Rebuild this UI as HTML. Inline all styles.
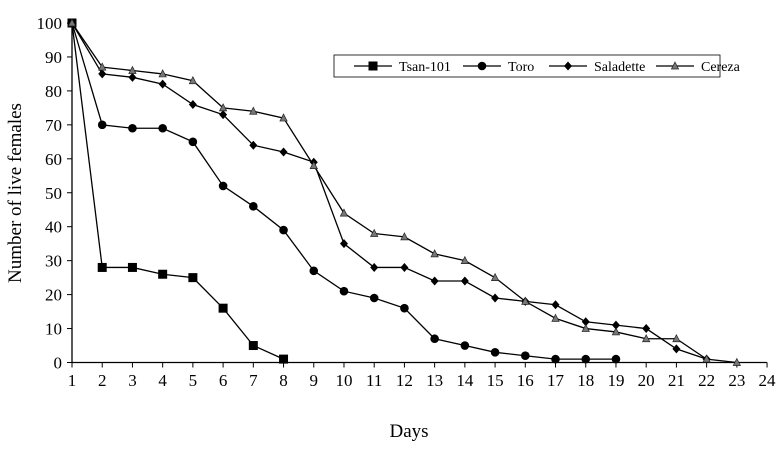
<!DOCTYPE html>
<html><head><meta charset="utf-8"><style>
body{margin:0;background:#fff}
svg text{font-family:"Liberation Serif",serif;fill:#000}
</style></head><body>
<svg id="chart" width="783" height="447" viewBox="0 0 783 447" xmlns="http://www.w3.org/2000/svg"></svg>
<script>
const days=[1,2,3,4,5,6,7,8,9,10,11,12,13,14,15,16,17,18,19,20,21,22,23];
const tsan=[100,28,28,26,25,16,5,1];
const toro=[100,70,69,69,65,52,46,39,27,21,19,16,7,5,3,2,1,1,1];
const saladette=[100,85,84,82,76,73,64,62,59,35,28,28,24,24,19,18,17,12,11,10,4,1];
const cereza=[100,87,86,85,83,75,74,72,58,44,38,37,32,30,25,18,13,10,9,7,7,1,0];
const xTicks=[1,2,3,4,5,6,7,8,9,10,11,12,13,14,15,16,17,18,19,20,21,22,23,24];
const yTicks=[0,10,20,30,40,50,60,70,80,90,100];
const NS="http://www.w3.org/2000/svg";
const svg=document.getElementById('chart');
const X=d=>72+(d-1)*30.22, Y=v=>362.5-v*3.395;
function mk(t,a,p){const e=document.createElementNS(NS,t);for(const k in a)e.setAttribute(k,a[k]);(p||svg).appendChild(e);return e;}
const ax=mk('g',{});


mk('line',{x1:72,y1:Y(100),x2:72,y2:Y(0),stroke:'#000','stroke-width':1.3},ax);
mk('line',{x1:72,y1:Y(0),x2:X(24),y2:Y(0),stroke:'#000','stroke-width':1.3},ax);
yTicks.forEach(v=>{mk('line',{x1:67,y1:Y(v),x2:72,y2:Y(v),stroke:'#000'},ax);
 const t=mk('text',{x:62,y:Y(v)+6,'text-anchor':'end','font-size':17},ax);t.textContent=v;
 });
xTicks.forEach(d=>{mk('line',{x1:X(d),y1:Y(0),x2:X(d),y2:Y(0)+5,stroke:'#000'},ax);
 const t=mk('text',{x:X(d),y:386,'text-anchor':'middle','font-size':17},ax);t.textContent=d;
 });
let t=mk('text',{x:409,y:437,'text-anchor':'middle','font-size':19});t.textContent='Days';

t=mk('text',{x:0,y:0,'text-anchor':'middle','font-size':19,transform:'translate(21,193) rotate(-90)'});t.textContent='Number of live females';

function marker(type,x,y,g){
 if(type==='sq')mk('rect',{x:x-4.5,y:y-4.5,width:9,height:9,fill:'#000'},g);
 else if(type==='ci')mk('circle',{cx:x,cy:y,r:4.3,fill:'#000'},g);
 else if(type==='di')mk('polygon',{points:`${x},${y-4.5} ${x+4},${y} ${x},${y+4.5} ${x-4},${y}`,fill:'#000'},g);
 else mk('polygon',{points:`${x},${y-4} ${x+3.6},${y+3} ${x-3.6},${y+3}`,fill:'#777',stroke:'#222','stroke-width':0.7},g);
}
const series=[['tsan',tsan,'sq'],['toro',toro,'ci'],['saladette',saladette,'di'],['cereza',cereza,'tr']];
series.forEach(([n,vals,m])=>{
 const g=mk('g',{});
 
 
 mk('polyline',{points:vals.map((v,i)=>X(days[i])+','+Y(v)).join(' '),fill:'none',stroke:'#000','stroke-width':1.3},g);
 vals.forEach((v,i)=>marker(m,X(days[i]),Y(v),g));
});
const lg=mk('g',{});


mk('rect',{x:334,y:55,width:386,height:22,fill:'#fff',stroke:'#000','stroke-width':0.8},lg);
const names=['Tsan-101','Toro','Saladette','Cereza'];
const lx=[354,463,549,656];
series.forEach(([n,v,m],i)=>{
 const g=mk('g',{},lg);
 
 
 mk('line',{x1:lx[i],y1:66,x2:lx[i]+38,y2:66,stroke:'#000','stroke-width':1.3},g);
 marker(m,lx[i]+19,66,g);
 const tt=mk('text',{x:lx[i]+45,y:71,'font-size':14},g);tt.textContent=names[i];
});
</script>
</body></html>
